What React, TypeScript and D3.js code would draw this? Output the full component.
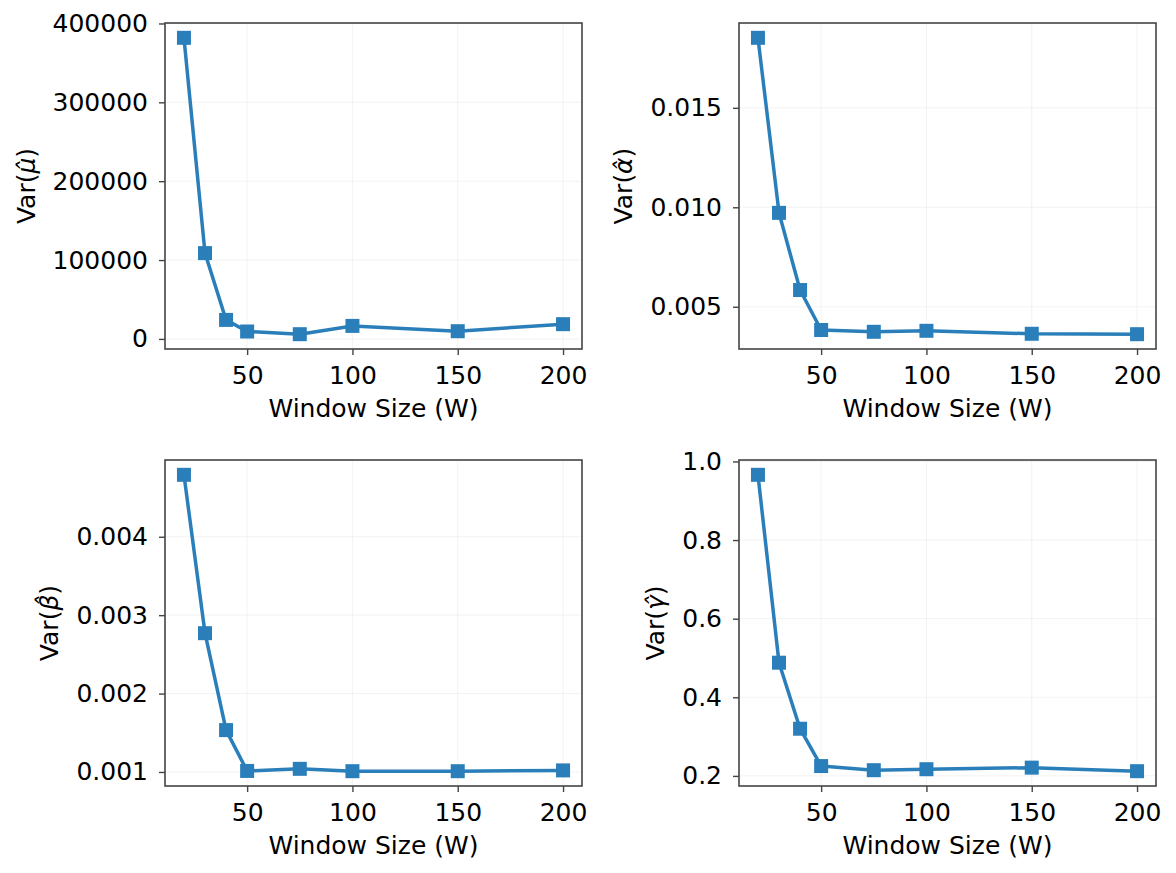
import React, { useEffect, useRef } from 'react';
import * as d3 from 'd3';

// window sizes shared by every panel
const windowSizes = [20, 30, 40, 50, 75, 100, 150, 200];
const xTicks = [50, 100, 150, 200];

// estimator variances per window size
const varMu = [381800, 108800, 24100, 9400, 6000, 16500, 9800, 18700];
const varAlpha = [0.01852, 0.00972, 0.00584, 0.00383, 0.00374, 0.00379, 0.00364, 0.00362];
const varBeta = [0.00479, 0.00277, 0.001534, 0.001013, 0.00104, 0.00101, 0.00101, 0.00102];
const varGamma = [0.966, 0.488, 0.32, 0.225, 0.2145, 0.217, 0.221, 0.212];

// y tick values
const muTicks = [0, 100000, 200000, 300000, 400000];
const alphaTicks = [0.005, 0.01, 0.015];
const betaTicks = [0.001, 0.002, 0.003, 0.004];
const gammaTicks = [0.2, 0.4, 0.6, 0.8, 1.0];

const W = 1176;
const H = 873;
const FONT = 'DejaVu Sans, sans-serif';
const FS = 25;
const LINE = '#2a7fba';
const SPINE = '#444444';

const panels = [
  { values: varMu, ticks: muTicks, fmt: d3.format('d'), sym: 'μ', left: 165, top: 23 },
  { values: varAlpha, ticks: alphaTicks, fmt: d3.format('.3f'), sym: 'α', left: 739, top: 23 },
  { values: varBeta, ticks: betaTicks, fmt: d3.format('.3f'), sym: 'β', left: 165, top: 460 },
  { values: varGamma, ticks: gammaTicks, fmt: d3.format('.1f'), sym: 'γ', left: 739, top: 460 },
];
const pw = 417;
const ph = 326;

const App = () => {
  const ref = useRef<SVGSVGElement>(null);

  useEffect(() => {
    const svg = d3.select(ref.current);
    svg.selectAll('*').remove();
    svg.append('rect').attr('width', W).attr('height', H).attr('fill', '#fff');

    // matplotlib-style 5% margins
    const pad = (lo: number, hi: number) => [lo - (hi - lo) * 0.05, hi + (hi - lo) * 0.05];
    const x = d3.scaleLinear().domain(pad(d3.min(windowSizes)!, d3.max(windowSizes)!)).range([0, pw]);

    panels.forEach((p) => {
      const y = d3.scaleLinear().domain(pad(d3.min(p.values)!, d3.max(p.values)!)).range([ph, 0]);
      const g = svg.append('g').attr('transform', `translate(${p.left},${p.top})`);

      // light grid
      g.selectAll('.gx').data(xTicks).enter().append('line')
        .attr('x1', (d) => x(d)).attr('x2', (d) => x(d)).attr('y1', 0).attr('y2', ph)
        .attr('stroke', '#b0b0b0').attr('stroke-opacity', 0.15).attr('stroke-width', 1);
      g.selectAll('.gy').data(p.ticks).enter().append('line')
        .attr('y1', (d) => y(d)).attr('y2', (d) => y(d)).attr('x1', 0).attr('x2', pw)
        .attr('stroke', '#b0b0b0').attr('stroke-opacity', 0.15).attr('stroke-width', 1);

      const line = d3.line<number>().x((_, i) => x(windowSizes[i])).y((d) => y(d));
      g.append('path').datum(p.values).attr('d', line).attr('fill', 'none')
        .attr('stroke', LINE).attr('stroke-width', 3.5).attr('stroke-linejoin', 'round');

      g.selectAll('.m').data(p.values).enter().append('rect')
        .attr('x', (_, i) => x(windowSizes[i]) - 7).attr('y', (d) => y(d) - 7)
        .attr('width', 14).attr('height', 14).attr('fill', LINE);

      // axes
      const xAxis = g.append('g').attr('transform', `translate(0,${ph})`)
        .call(d3.axisBottom(x).tickValues(xTicks).tickSize(6).tickPadding(11).tickFormat(d3.format('d')));
      const yAxis = g.append('g')
        .call(d3.axisLeft(y).tickValues(p.ticks).tickSize(6).tickPadding(11).tickFormat(p.fmt as any));
      [xAxis, yAxis].forEach((a) => {
        a.select('.domain').remove();
        a.selectAll('line').attr('stroke', SPINE).attr('stroke-width', 1.4);
        a.selectAll('text').attr('font-family', FONT).attr('font-size', FS).attr('fill', '#000');
      });

      g.append('rect').attr('width', pw).attr('height', ph).attr('fill', 'none')
        .attr('stroke', SPINE).attr('stroke-width', 1.6);

      g.append('text').attr('x', pw / 2).attr('y', ph + 68).attr('text-anchor', 'middle')
        .attr('font-family', FONT).attr('font-size', FS).text('Window Size (W)');

      let maxW = 0;
      yAxis.selectAll<SVGTextElement, unknown>('text').each(function () {
        maxW = Math.max(maxW, this.getBBox().width);
      });
      const lx = -(6 + 11 + maxW + 18);
      const t = g.append('text').attr('transform', `translate(${lx},${ph / 2}) rotate(-90)`)
        .attr('text-anchor', 'middle').attr('font-family', FONT).attr('font-size', FS);
      t.append('tspan').text('Var(');
      t.append('tspan').attr('font-style', 'italic').text(p.sym + '\u0302');
      t.append('tspan').text(')');
    });
  }, []);

  return (
    <svg ref={ref} width={W} height={H} style={{ position: 'absolute', left: 0, top: 0 }} />
  );
};

export default App;
